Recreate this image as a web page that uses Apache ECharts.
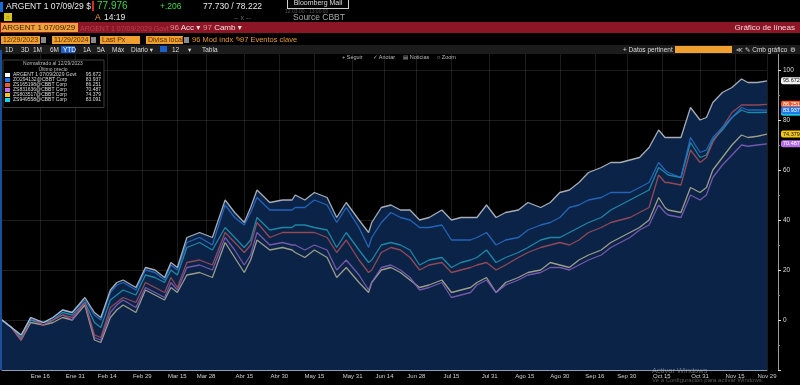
<!DOCTYPE html>
<html><head><meta charset="utf-8">
<script src="https://cdn.jsdelivr.net/npm/echarts@6/dist/echarts.min.js"></script>
<style>
html,body{margin:0;padding:0;background:#000;}
body{width:800px;height:385px;overflow:hidden;position:relative;font-family:'Liberation Sans','DejaVu Sans',Arial,sans-serif;}
#chart{position:absolute;left:0;top:0;width:800px;height:385px;}
.t{position:absolute;white-space:nowrap;line-height:1;}
.ob{position:absolute;background:#f0a030;color:#5a3000;font-size:7px;line-height:8px;height:8px;top:36px;padding-left:2px;box-sizing:border-box;white-space:nowrap;}
.ic{position:absolute;background:#8a8a8a;top:37px;width:5px;height:6px;}
.tb{position:absolute;top:46.5px;font-size:6.5px;color:#dcdcdc;white-space:nowrap;line-height:1;}
.tool{position:absolute;top:55px;font-size:5.5px;color:#b8b8b8;white-space:nowrap;line-height:1;}
</style></head><body>
<div id="chart"></div>

<!-- row 1 -->
<div class="t" style="left:0;top:2px;width:3px;height:10px;background:#1a6ad8"></div>
<div class="t" style="left:6px;top:2px;font-size:8.5px;color:#e8e8e8">ARGENT 1 07/09/29 $</div>
<div class="t" style="left:92px;top:1px;width:2px;height:10px;background:#d03020"></div>
<div class="t" style="left:97px;top:1px;font-size:10px;color:#3fdc3f">77.976</div>
<div class="t" style="left:160px;top:2px;font-size:8.5px;color:#3fdc3f">+.206</div>
<div class="t" style="left:203px;top:2px;font-size:8.5px;color:#e8e8e8">77.730 / 78.222</div>
<div class="t" style="left:287px;top:-2px;width:60px;height:9px;border:1px solid #cfcfcf;font-size:7px;color:#ddd;text-align:center;line-height:8px;background:#000">Bloomberg Mail</div>
<div class="t" style="left:285px;top:9px;font-size:5px;color:#555">12:03:00 - 13:00:00</div>
<!-- row 2 -->
<div class="t" style="left:4px;top:13px;width:8px;height:8px;background:#d8c21e;color:#222;font-size:6px;text-align:center;line-height:8px">::</div>
<div class="t" style="left:95px;top:13px;font-size:8.5px;color:#f0a030">A</div>
<div class="t" style="left:104px;top:13px;font-size:8.5px;color:#e8e8e8">14:19</div>
<div class="t" style="left:234px;top:14px;font-size:7px;color:#666">-- x --</div>
<div class="t" style="left:293px;top:13px;font-size:8.5px;color:#a8a8a8">Source CBBT</div>
<!-- row 3 red bar -->
<div class="t" style="left:0;top:22px;width:800px;height:11px;background:#8c1526"></div>
<div class="t" style="left:1px;top:23px;width:76px;height:9px;background:#f2a23c;color:#3a1a00;font-size:8px;line-height:9px;padding-left:1px">ARGENT 1 07/09/29</div>
<div class="t" style="left:80px;top:24.5px;font-size:7px;color:#b84050">ARGENT 1 07/09/2029 Govt</div>
<div class="t" style="left:170px;top:23.5px;font-size:8px;color:#f4dede"><span style="color:#e09090">96</span> Acc ▾</div>
<div class="t" style="left:203px;top:23.5px;font-size:8px;color:#f4dede"><span style="color:#e09090">97</span> Camb ▾</div>
<div class="t" style="right:5px;top:24px;font-size:8px;color:#f2d4d8">Gráfico de líneas</div>
<!-- row 4 -->
<div class="ob" style="left:1px;width:39px">12/29/2023</div><div class="ic" style="left:41px"></div>
<div class="ob" style="left:52px;width:38px">11/29/2024</div><div class="ic" style="left:91px"></div>
<div class="ob" style="left:100px;width:40px">Last Px</div>
<div class="ob" style="left:146px;width:37px">Divisa local</div><div class="ic" style="left:184px"></div>
<div class="t" style="left:192px;top:36px;font-size:7.5px;color:#e89a30">96 Mod índx ✎</div>
<div class="t" style="left:240px;top:36px;font-size:7.5px;color:#e89a30">97 Eventos clave</div>
<!-- row 5 -->
<div class="t" style="left:0;top:45px;width:800px;height:9px;background:#1c1c1c"></div>
<div class="tb" style="left:5px">1D</div>
<div class="tb" style="left:21px">3D</div>
<div class="tb" style="left:33px">1M</div>
<div class="tb" style="left:50px">6M</div>
<div class="t" style="left:61px;top:45.5px;width:14px;height:7px;background:#1f5fc8"></div>
<div class="tb" style="left:63px;color:#fff">YTD</div>
<div class="tb" style="left:83px">1A</div>
<div class="tb" style="left:97px">5A</div>
<div class="tb" style="left:112px">Máx</div>
<div class="tb" style="left:131px">Diario ▾</div>
<div class="t" style="left:160px;top:46px;width:7px;height:6px;background:#1f5fc8"></div>
<div class="tb" style="left:172px">12</div>
<div class="tb" style="left:188px">▾</div>
<div class="tb" style="left:202px">Tabla</div>
<div class="tb" style="left:623px">+ Datos pertinent</div>
<div class="t" style="left:675px;top:46px;width:57px;height:7px;background:#f0a030"></div>
<div class="tb" style="left:736px">≪</div>
<div class="tb" style="left:745px">✎ Cmb gráfico</div>
<div class="tb" style="left:790px">⚙</div>
<!-- chart toolbar -->
<div class="tool" style="left:342px">+ Seguir</div>
<div class="tool" style="left:373px">✓ Anotar</div>
<div class="tool" style="left:403px">▤ Noticias</div>
<div class="tool" style="left:437px">○ Zoom</div>
<!-- left edge line -->
<div class="t" style="left:0;top:50px;width:2px;height:320px;background:#1c4f9a"></div>
<!-- watermark -->
<div class="t" style="left:652px;top:367px;font-size:7.5px;color:rgba(210,210,210,0.45)">Activar Windows</div>
<div class="t" style="left:652px;top:377px;font-size:6px;color:rgba(210,210,210,0.4)">Ve a Configuración para activar Windows.</div>

<script>
// ---------- DATA ----------
const sampleDates = ['2023-12-29','2024-01-03','2024-01-08','2024-01-11','2024-01-17','2024-01-22','2024-01-25','2024-01-30',
 '2024-02-05','2024-02-08','2024-02-12','2024-02-15','2024-02-19','2024-02-21','2024-02-27','2024-03-01','2024-03-06','2024-03-11','2024-03-13','2024-03-15','2024-03-20','2024-03-26',
 '2024-04-01','2024-04-05','2024-04-10','2024-04-15','2024-04-17','2024-04-19','2024-04-25','2024-05-01','2024-05-06','2024-05-07','2024-05-10','2024-05-15','2024-05-21','2024-05-24','2024-05-29','2024-06-04','2024-06-07','2024-06-10','2024-06-13','2024-06-18',
 '2024-06-21','2024-06-26','2024-07-01','2024-07-04','2024-07-10','2024-07-15','2024-07-18','2024-07-23',
 '2024-07-25','2024-07-30','2024-08-02','2024-08-07','2024-08-13','2024-08-16',
 '2024-08-22','2024-08-27','2024-08-30','2024-09-04','2024-09-09','2024-09-12','2024-09-18','2024-09-23','2024-09-26','2024-10-01','2024-10-04','2024-10-09','2024-10-14',
 '2024-10-16','2024-10-17','2024-10-23','2024-10-28','2024-10-31','2024-11-04','2024-11-06','2024-11-11','2024-11-14','2024-11-19','2024-11-21','2024-11-26','2024-11-29'];

const govtVals = [0,-3,-6,1,-1,1,4,3,
 9,3,1,12,15,16,13,21,20,17,23,21,33,35,
 33,48,43,39,45,52,47,48,48,50,48,51,49,41,47,40,35,39,45,46,
 44,44,40,41,44,40,41,41,
 41,46,41,43,44,47,
 45,47,51,52,55,59,61,63,63,64,65,69,76,
 73,73,73,85,80,81,87,91,93,96.4,95,95,95.672];
const blueVals = [0,-3,-6,1,-1,1,4,3,
 8,2,0,11,14,15,12,20,19,16,22,20,31,33,
 30,46,41,38,43,49,44,44,44,45,45,48,46,39,45,37,29,33,39,43,
 41,40,37,37,38,32,32,32,
 33,35,30,32,33,36,
 38,39,41,45,46,48,49,51,51,51,53,55,63,
 60,59,57,73,67,68,73,77,81,85,84,84,83.937];
const redVals = [0,-3,-8,1,-2,0,2,1,
 7,-6,-7,5,7,9,7,15,13,11,17,13,23,24,
 22,35,31,27,30,39,33,35,35,35,35,35,33,27,32,24,19,20,27,29,
 28,25,20,22,23,19,20,21,
 22,23,20,22,25,27,
 29,30,31,30,32,35,37,39,40,41,43,45,58,
 55,55,54,68,63,65,71,77,83,86,86,86,86.251];
const purpleVals = [0,-3,-8,0,-2,0,2,0,
 7,-7,-8,3,6,8,5,13,11,9,15,12,21,22,
 20,33,28,22,26,35,30,31,30,30,28,30,28,20,24,18,12,15,21,22,
 20,17,12,13,15,9,10,11,
 14,16,11,14,16,18,
 19,21,21,20,22,24,26,29,31,33,36,38,46,
 43,42,41,50,48,50,57,62,66,70,69.5,70,70.487];
const yellowVals = [0,-3,-8,-1,-2,-1,1,0,
 6,-8,-9,1,4,6,3,12,10,8,13,11,18,19,
 17,31,25,19,24,32,28,29,28,27,25,28,25,17,21,15,11,15,20,21,
 19,16,13,14,16,11,12,13,
 15,17,11,15,17,19,
 20,23,22,21,24,26,28,31,33,35,37,40,49,
 45,44,43,53,51,53,60,65,70,74,73,73.5,74.379];
const cyanVals = [0,-3,-7,0,-1,0,3,2,
 7,-1,-3,8,10,12,10,18,17,15,20,18,29,31,
 28,37,33,29,32,41,36,37,37,38,38,37,36,29,35,28,23,24,30,31,
 30,28,22,24,25,21,23,24,
 25,28,23,25,27,29,
 32,33,33,35,37,39,41,44,46,48,50,52,61,
 59,58,57,71,65,66,72,76,81,84,83,83,83.091];

const tickDates = ['2024-01-16','2024-01-31','2024-02-14','2024-02-29','2024-03-15','2024-03-28','2024-04-15','2024-04-30',
 '2024-05-15','2024-05-31','2024-06-14','2024-06-28','2024-07-15','2024-07-31','2024-08-15','2024-08-30',
 '2024-09-16','2024-09-30','2024-10-15','2024-10-31','2024-11-15','2024-11-29'];
const monthsEs = ['Ene','Feb','Mar','Abr','May','Jun','Jul','Ago','Sep','Oct','Nov','Dic'];
const yTickLabels = [0,20,40,60,80,100];

// ---------- BUILD ----------
function weekdayList(a, b) {
  const out = [];
  const d = new Date(a + 'T00:00:00Z');
  const end = new Date(b + 'T00:00:00Z');
  while (d <= end) {
    const w = d.getUTCDay();
    if (w !== 0 && w !== 6) out.push(d.toISOString().slice(0, 10));
    d.setUTCDate(d.getUTCDate() + 1);
  }
  return out;
}
const categories = weekdayList('2023-12-29', '2024-11-29');
const tickSet = new Set(tickDates);
const fmtDate = v => monthsEs[+v.slice(5, 7) - 1] + ' ' + v.slice(8, 10);
const toData = vals => sampleDates.map((d, k) => [categories.indexOf(d), vals[k]]);

const defs = [
  {name: 'ARGENT 1 07/09/2029 Govt', vals: govtVals,  line: '#c3c8d0', sw: '#ffffff', tag: '#f2f2f2', tagText: '#111'},
  {name: 'ZO294132@CBBT Corp',       vals: blueVals,  line: '#2870cc', sw: '#1f78f0', tag: '#1f78f0', tagText: '#fff'},
  {name: 'ZS165198@CBBT Corp',       vals: redVals,   line: '#a8505c', sw: '#f05a28', tag: '#f05a28', tagText: '#fff'},
  {name: 'ZS831636@CBBT Corp',       vals: purpleVals,line: '#8660bc', sw: '#c070e8', tag: '#b56ee6', tagText: '#fff'},
  {name: 'ZS803517@CBBT Corp',       vals: yellowVals,line: '#b4b396', sw: '#f5c518', tag: '#f5c518', tagText: '#111'},
  {name: 'ZS949558@CBBT Corp',       vals: cyanVals,  line: '#2298b8', sw: '#19d3e6', tag: '#19c8e0', tagText: '#111'}
];
const lastOf = {};
defs.forEach(d => { lastOf[d.name] = d.vals[d.vals.length - 1]; });

const drawOrder = [4, 3, 5, 2, 1, 0];
const series = [{
  name: '_fill', type: 'line', data: toData(govtVals), showSymbol: false, silent: true,
  lineStyle: {width: 0, opacity: 0}, areaStyle: {color: '#0b2346', opacity: 1, origin: 'start'}, z: 1
}];
drawOrder.forEach(i => {
  const d = defs[i];
  series.push({
    name: d.name, type: 'line', data: toData(d.vals), showSymbol: false,
    lineStyle: {width: 1.3, color: d.line, opacity: 0.85}, itemStyle: {color: d.line}, z: 3,
    endLabel: {show: true, formatter: () => lastOf[d.name].toFixed(3), backgroundColor: d.tag, color: d.tagText,
      fontSize: 5.5, padding: [1, 2, 0, 2], borderRadius: 2, distance: 14}
  });
});

const chart = echarts.init(document.getElementById('chart'), null, {renderer: 'canvas'});
chart.setOption({
  backgroundColor: '#000',
  animation: false,
  textStyle: {fontFamily: "'Liberation Sans', Arial, sans-serif"},
  title: {
    text: 'Normalizado al 12/29/2023', subtext: 'Último precio', left: 53, top: 61, textAlign: 'center',
    padding: 0, itemGap: 0, z: 10,
    textStyle: {fontSize: 5, color: '#bdbdbd', fontWeight: 'normal', lineHeight: 5.5},
    subtextStyle: {fontSize: 5, color: '#bdbdbd', lineHeight: 5.5}
  },
  legend: {
    orient: 'vertical', left: 3, top: 60, selectedMode: false, icon: 'rect',
    itemWidth: 5, itemHeight: 4, itemGap: 0,
    padding: [12.5, 3, 5, 2], backgroundColor: 'rgba(0,0,0,0.92)', borderColor: '#3c3c3c', borderWidth: 1,
    data: defs.map(d => ({name: d.name, itemStyle: {color: d.sw}})),
    formatter: n => '{n|' + n + '}{v|' + lastOf[n].toFixed(3) + '}',
    textStyle: {color: '#dcdcdc', fontSize: 5, padding: [0, 0, 0, -2],
      rich: {n: {width: 70, fontSize: 5, lineHeight: 5.5, color: '#dcdcdc'},
             v: {width: 18, align: 'right', fontSize: 5, lineHeight: 5.5, color: '#dcdcdc'}}}
  },
  grid: {left: 2, right: 33, top: 50, bottom: 15, containLabel: false, outerBoundsMode: 'none'},
  xAxis: {
    type: 'category', data: categories, boundaryGap: false,
    axisLine: {onZero: false, lineStyle: {color: '#8d9db6', width: 1}},
    axisTick: {show: false},
    axisLabel: {interval: (i, v) => tickSet.has(v), formatter: fmtDate, color: '#cfcfcf', fontSize: 6, margin: 3},
    splitLine: {show: true, interval: (i, v) => tickSet.has(v), lineStyle: {color: 'rgba(255,255,255,0.11)', width: 1}},
    name: '2024', nameLocation: 'middle', nameGap: 10, nameTextStyle: {color: '#bbbbbb', fontSize: 6}
  },
  yAxis: {
    type: 'value', position: 'right', offset: 11, min: -20, max: 108, interval: 20,
    axisLine: {show: true, lineStyle: {color: '#9a9a9a'}},
    axisTick: {show: true, length: 3, lineStyle: {color: '#dddddd'}},
    minorTick: {show: true, splitNumber: 2, length: 2, lineStyle: {color: '#888'}},
    axisLabel: {color: '#dddddd', fontSize: 6.5, margin: 5,
      formatter: v => yTickLabels.includes(v) ? String(v) : ''},
    splitLine: {lineStyle: {color: 'rgba(255,255,255,0.11)', width: 1}}
  },
  series: series
});
</script>
</body></html>
